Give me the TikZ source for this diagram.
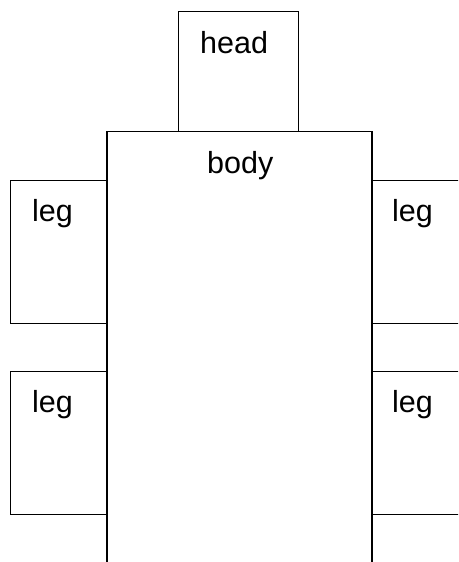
\documentclass[tikz,border=0pt]{standalone}
\usepackage{fontspec}
\setmainfont{Liberation Sans}
\begin{document}
\begin{tikzpicture}[x=1pt,y=-1pt,
  part/.style={draw=black, line width=1.3pt, fill=white, rectangle, inner sep=0pt, anchor=north west},
  lbl/.style={inner sep=0pt, anchor=base west, font=\fontsize{30.5}{36}\selectfont}]
\useasboundingbox (0,0) rectangle (458,562);
\clip (0,0) rectangle (458,562);
\node[part, minimum width=120pt, minimum height=120pt] (head) at (178,11) {};
\node[part, minimum width=264pt, minimum height=480pt] (body) at (107,131) {};
\node[part, minimum width=97pt, minimum height=143pt] (legA) at (10,180) {};
\node[part, minimum width=97pt, minimum height=143pt] (legB) at (371,180) {};
\node[part, minimum width=97pt, minimum height=143pt] (legC) at (10,371) {};
\node[part, minimum width=97pt, minimum height=143pt] (legD) at (371,371) {};
\draw[line width=1.3pt] (body.north west) -- (body.south west);
\draw[line width=1.3pt] (body.north east) -- (body.south east);
\node[lbl] (tHead) at (200,53) {head};
\node[lbl] (tBody) at (207,173) {body};
\node[lbl] (tLegA) at (32,221) {leg};
\node[lbl] (tLegB) at (392,221) {leg};
\node[lbl] (tLegC) at (32,412) {leg};
\node[lbl] (tLegD) at (392,412) {leg};
\end{tikzpicture}
\end{document}
